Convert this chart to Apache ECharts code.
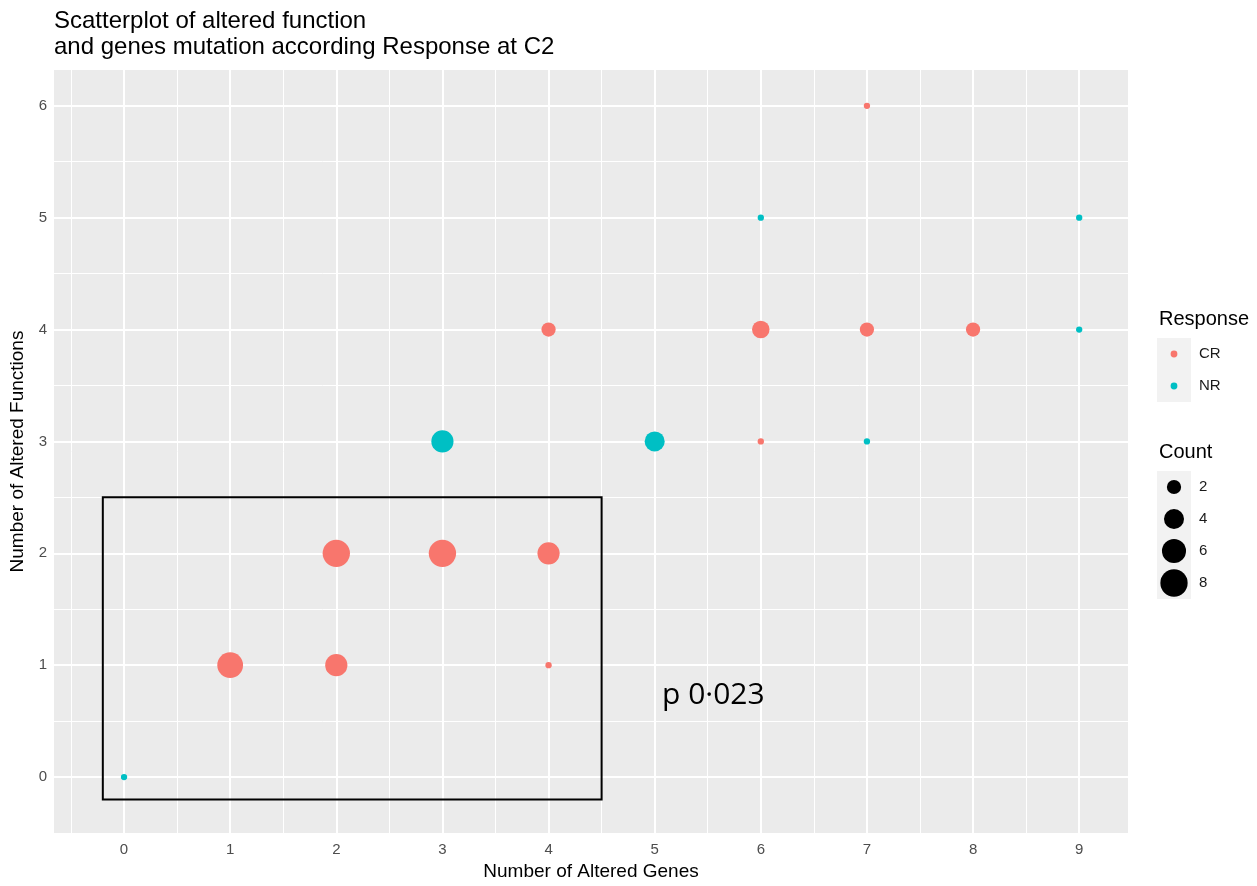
<!DOCTYPE html>
<html>
<head>
<meta charset="utf-8">
<script src="https://cdn.jsdelivr.net/npm/echarts@6/dist/echarts.min.js"></script>
<style>
html,body{margin:0;padding:0;background:#fff;}
#chart{width:1257px;height:886px;}
</style>
</head>
<body>
<div id="chart"></div>
<script>
// ---- data ----
const crGenes     = [7, 4, 6, 7, 8, 6, 2, 3, 4, 1, 2, 4];
const crFunctions = [6, 4, 4, 4, 4, 3, 2, 2, 2, 1, 1, 1];
const crCount     = [1, 2, 3, 2, 2, 1, 8, 8, 5, 7, 5, 1];

const nrGenes     = [6, 9, 9, 3, 5, 7, 0];
const nrFunctions = [5, 5, 4, 3, 3, 3, 0];
const nrCount     = [1, 1, 1, 5, 4, 1, 1];

const xTicks = [0, 1, 2, 3, 4, 5, 6, 7, 8, 9];
const yTicks = [0, 1, 2, 3, 4, 5, 6];
const countBreaks = [2, 4, 6, 8];
const responseLevels = ['CR', 'NR'];

// ---- styling ----
const CR_COLOR = '#F8766D', NR_COLOR = '#00BFC4';
const countMin = 1, countMax = 8;
function dotSize(c) {
  return 4.2 * (1.5 + 5 * Math.sqrt((c - countMin) / (countMax - countMin)));
}

const xMin = -0.66, xMax = 9.46, yMin = -0.5, yMax = 6.32;
const gridL = 54, gridR = 1128, gridT = 70, gridB = 835;

const xMinor = xTicks.map(v => v - 0.5).concat([xTicks[xTicks.length-1] + 0.5]).filter(v => v > xMin && v < xMax);
const yMinor = yTicks.map(v => v - 0.5).concat([yTicks[yTicks.length-1] + 0.5]).filter(v => v > yMin && v < yMax);

const gridLines = []
  .concat(xMinor.map(v => ({xAxis: v, lineStyle: {width: 1}})))
  .concat(yMinor.map(v => ({yAxis: v, lineStyle: {width: 1}})))
  .concat(xTicks.map(v => ({xAxis: v, lineStyle: {width: 2}})))
  .concat(yTicks.map(v => ({yAxis: v, lineStyle: {width: 2}})));

const chart = echarts.init(document.getElementById('chart'), null, {renderer: 'canvas'});

const FONT = 'Liberation Sans, Arial, sans-serif';

// legend graphics
const keyX = 1157, keyW = 34, keyCx = 1174, labelX = 1199;
const respY = [354, 386];
const countY = [487, 519, 551, 583];
const graphics = [
  {type: 'text', z: 100, left: 54, top: 8, style: {text: 'Scatterplot of altered function\nand genes mutation according Response at C2', font: '24px ' + FONT, fill: '#000', lineHeight: 26}},
  {type: 'text', z: 100, left: 1159, top: 309, style: {text: 'Response', font: '20px ' + FONT, fill: '#000'}},
  {type: 'rect', z: 90, shape: {x: keyX, y: respY[0] - 16, width: keyW, height: 64}, style: {fill: '#F2F2F2'}},
  {type: 'text', z: 100, left: 1159, top: 442, style: {text: 'Count', font: '20px ' + FONT, fill: '#000'}},
  {type: 'rect', z: 90, shape: {x: keyX, y: countY[0] - 16, width: keyW, height: 128}, style: {fill: '#F2F2F2'}},
  {type: 'text', z: 100, left: 662, top: 680, style: {text: 'p 0\u00B7023', font: '30px "Open Sans", "Noto Sans", sans-serif', fill: '#000'}}
];
responseLevels.forEach((lvl, i) => {
  graphics.push({type: 'circle', z: 100, shape: {cx: keyCx, cy: respY[i], r: 3.4}, style: {fill: i === 0 ? CR_COLOR : NR_COLOR}});
  graphics.push({type: 'text', z: 100, x: labelX, y: respY[i], style: {text: lvl, font: '15px ' + FONT, fill: '#1a1a1a', verticalAlign: 'middle'}});
});
countBreaks.forEach((c, i) => {
  graphics.push({type: 'circle', z: 100, shape: {cx: keyCx, cy: countY[i], r: dotSize(c) / 2}, style: {fill: '#000'}});
  graphics.push({type: 'text', z: 100, x: labelX, y: countY[i], style: {text: String(c), font: '15px ' + FONT, fill: '#1a1a1a', verticalAlign: 'middle'}});
});

const option = {
  animation: false,
  backgroundColor: '#fff',
  grid: {left: gridL, right: 1257 - gridR, top: gridT, bottom: 886 - gridB, show: true, backgroundColor: '#EBEBEB', borderWidth: 0, containLabel: false},
  xAxis: {
    type: 'value', min: xMin, max: xMax,
    name: 'Number of Altered Genes', nameLocation: 'middle', nameGap: 29,
    nameTextStyle: {fontSize: 19, color: '#000', fontFamily: FONT},
    axisLine: {show: false},
    axisTick: {show: true, length: 4, lineStyle: {color: '#333', width: 1.5}, customValues: xTicks},
    axisLabel: {customValues: xTicks, color: '#4D4D4D', fontSize: 15, fontFamily: FONT, margin: 9},
    splitLine: {show: false}
  },
  yAxis: {
    type: 'value', min: yMin, max: yMax,
    name: 'Number of Altered Functions', nameLocation: 'middle', nameGap: 27,
    nameTextStyle: {fontSize: 19, color: '#000', fontFamily: FONT},
    axisLine: {show: false},
    axisTick: {show: true, length: 4, lineStyle: {color: '#333', width: 1.5}, customValues: yTicks},
    axisLabel: {customValues: yTicks, color: '#4D4D4D', fontSize: 15, fontFamily: FONT, margin: 7},
    splitLine: {show: false}
  },
  graphic: graphics,
  series: [
    {
      type: 'scatter', name: 'grid', data: [], z: 1, silent: true,
      markLine: {z: 1, silent: true, symbol: ['none', 'none'], label: {show: false}, animation: false,
        lineStyle: {color: '#FFFFFF', type: 'solid'}, data: gridLines},
      markArea: {z: 2, silent: true, label: {show: false},
        itemStyle: {color: 'rgba(0,0,0,0)', borderColor: '#000', borderWidth: 2},
        data: [[{coord: [-0.2, -0.2]}, {coord: [4.5, 2.5]}]]}
    },
    {
      type: 'scatter', name: 'CR', z: 10,
      data: crGenes.map((x, i) => [x, crFunctions[i], crCount[i]]),
      symbolSize: d => dotSize(d[2]),
      itemStyle: {color: CR_COLOR, opacity: 1}
    },
    {
      type: 'scatter', name: 'NR', z: 10,
      data: nrGenes.map((x, i) => [x, nrFunctions[i], nrCount[i]]),
      symbolSize: d => dotSize(d[2]),
      itemStyle: {color: NR_COLOR, opacity: 1}
    }
  ]
};
chart.setOption(option);
</script>
</body>
</html>
